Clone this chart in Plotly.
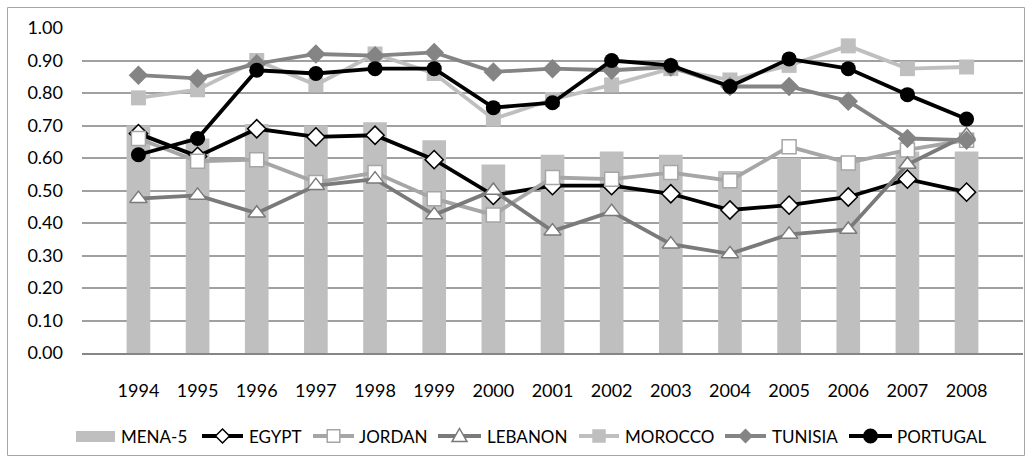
import plotly.graph_objects as go

# Years on the category axis
years = ["1994", "1995", "1996", "1997", "1998", "1999", "2000", "2001",
         "2002", "2003", "2004", "2005", "2006", "2007", "2008"]

# MENA-5 average (bars)
mena5 = [0.70, 0.66, 0.705, 0.70, 0.71, 0.655, 0.58, 0.61, 0.62, 0.61,
         0.56, 0.60, 0.59, 0.62, 0.62]

# Country series (lines)
egypt = [0.675, 0.605, 0.69, 0.665, 0.67, 0.595, 0.485, 0.515, 0.515, 0.49,
         0.44, 0.455, 0.48, 0.535, 0.495]
jordan = [0.66, 0.59, 0.595, 0.525, 0.555, 0.475, 0.425, 0.54, 0.535, 0.555,
          0.53, 0.635, 0.585, 0.625, 0.655]
lebanon = [0.475, 0.485, 0.43, 0.515, 0.535, 0.425, 0.50, 0.375, 0.435, 0.335,
           0.305, 0.365, 0.38, 0.58, 0.67]
morocco = [0.785, 0.81, 0.90, 0.825, 0.92, 0.86, 0.72, 0.78, 0.825, 0.875,
           0.84, 0.885, 0.945, 0.875, 0.88]
tunisia = [0.855, 0.845, 0.89, 0.92, 0.915, 0.925, 0.865, 0.875, 0.87, 0.88,
           0.82, 0.82, 0.775, 0.66, 0.655]
portugal = [0.61, 0.66, 0.87, 0.86, 0.875, 0.875, 0.755, 0.77, 0.90, 0.885,
            0.82, 0.905, 0.875, 0.795, 0.72]

y_ticks = [0.0, 0.1, 0.2, 0.3, 0.4, 0.5, 0.6, 0.7, 0.8, 0.9, 1.0]
y_tick_text = ["0.00", "0.10", "0.20", "0.30", "0.40", "0.50",
               "0.60", "0.70", "0.80", "0.90", "1.00"]

FONT = "Lato, 'Open Sans', sans-serif"
TEXT = "#000000"

W, H = 1032, 463
L, R, T, B = 82, 9, 28, 110
PW, PH = W - L - R, H - T - B


def px(xp):
    """Pixel x -> paper x."""
    return (xp - L) / PW


def py(yp):
    """Pixel y -> paper y."""
    return (H - B - yp) / PH


# Series styling: name, values, line colour, marker symbol, size, fill, border
series = [
    ("EGYPT", egypt, "#000000", "diamond", 14, "white", "#000000"),
    ("JORDAN", jordan, "#a6a6a6", "square", 14, "white", "#a6a6a6"),
    ("LEBANON", lebanon, "#7a7a7a", "triangle-up", 15, "white", "#7a7a7a"),
    ("MOROCCO", morocco, "#bfbfbf", "square", 15, "#bfbfbf", "#bfbfbf"),
    ("TUNISIA", tunisia, "#848484", "diamond", 15, "#848484", "#848484"),
    ("PORTUGAL", portugal, "#000000", "circle", 15, "#000000", "#000000"),
]

fig = go.Figure()

fig.add_trace(go.Bar(
    x=years, y=mena5, name="MENA-5",
    marker=dict(color="#bfbfbf", line=dict(width=0)),
    width=0.4, showlegend=False,
))

for name, vals, lc, sym, size, fill, border in series:
    fig.add_trace(go.Scatter(
        x=years, y=vals, name=name, mode="lines+markers",
        line=dict(color=lc, width=3.8),
        marker=dict(symbol=sym, size=size, color=fill,
                    line=dict(color=border, width=1.5 if fill == "white" else 0)),
        showlegend=False,
    ))


def marker_shape(sym, cx, cy, size, fill, border):
    """Legend marker glyph as a paper-referenced shape, sized in pixels."""
    bw = 1.5 if fill == "white" else 0
    h = size / 2.0
    base = dict(xref="paper", yref="paper", fillcolor=fill,
                line=dict(color=border, width=bw), layer="below")
    if sym == "circle":
        return dict(type="circle", x0=px(cx - h), x1=px(cx + h),
                    y0=py(cy + h), y1=py(cy - h), **base)
    if sym == "square":
        h *= 0.9
        return dict(type="rect", x0=px(cx - h), x1=px(cx + h),
                    y0=py(cy + h), y1=py(cy - h), **base)
    if sym == "diamond":
        pts = [(cx, cy - h), (cx + h, cy), (cx, cy + h), (cx - h, cy)]
    else:  # triangle-up
        pts = [(cx, cy - h), (cx + h, cy + h * 0.75), (cx - h, cy + h * 0.75)]
    path = "M " + " L ".join(f"{px(a):.5f},{py(b):.5f}" for a, b in pts) + " Z"
    return dict(type="path", path=path, **base)


# Legend drawn below the axis: swatch line + marker + label per series
legend_y = 436
legend_items = [  # (symbol start px, symbol end px, label start px)
    (202, 243, 247),
    (313, 354, 357),
    (438, 481, 485),
    (579, 619, 623),
    (725, 766, 770),
    (849, 892, 895),
]

shapes = []
annotations = []

# Outer chart frame
shapes.append(dict(type="rect", xref="paper", yref="paper",
                   x0=px(7.5), x1=px(1024.5), y0=py(455.5), y1=py(7.5),
                   line=dict(color="#a6a6a6", width=1),
                   fillcolor="rgba(0,0,0,0)", layer="below"))

# MENA-5 bar swatch
shapes.append(dict(type="rect", xref="paper", yref="paper",
                   x0=px(76), x1=px(115), y0=py(442), y1=py(431),
                   fillcolor="#bfbfbf", line=dict(width=0), layer="below"))
annotations.append(dict(text="MENA-5", xref="paper", yref="paper",
                        x=px(119), y=py(legend_y), xanchor="left",
                        yanchor="middle", showarrow=False,
                        font=dict(family=FONT, size=17, color=TEXT)))

for (x0, x1, tx), (name, _, lc, sym, size, fill, border) in zip(legend_items, series):
    shapes.append(dict(type="line", xref="paper", yref="paper",
                       x0=px(x0), x1=px(x1), y0=py(legend_y), y1=py(legend_y),
                       line=dict(color=lc, width=3.8), layer="below"))
    shapes.append(marker_shape(sym, (x0 + x1) / 2, legend_y, size, fill, border))
    annotations.append(dict(text=name, xref="paper", yref="paper",
                            x=px(tx), y=py(legend_y), xanchor="left",
                            yanchor="middle", showarrow=False,
                            font=dict(family=FONT, size=17, color=TEXT)))

fig.update_layout(
    width=W, height=H,
    margin=dict(l=L, r=R, t=T, b=B),
    paper_bgcolor="white", plot_bgcolor="white",
    font=dict(family=FONT, size=17, color=TEXT),
    showlegend=False,
    shapes=shapes,
    annotations=annotations,
    xaxis=dict(type="category", showgrid=False, zeroline=False,
               showline=True, linecolor="#868686", linewidth=2,
               ticks="", ticklabelstandoff=20,
               tickfont=dict(family=FONT, size=18, color=TEXT)),
    yaxis=dict(range=[0, 1.0], tickvals=y_ticks, ticktext=y_tick_text,
               showgrid=True, gridcolor="#a0a0a0", gridwidth=1.5,
               zeroline=False, showline=False, ticks="",
               ticklabelstandoff=18,
               tickfont=dict(family=FONT, size=18, color=TEXT)),
)

fig.write_html("out.html")
